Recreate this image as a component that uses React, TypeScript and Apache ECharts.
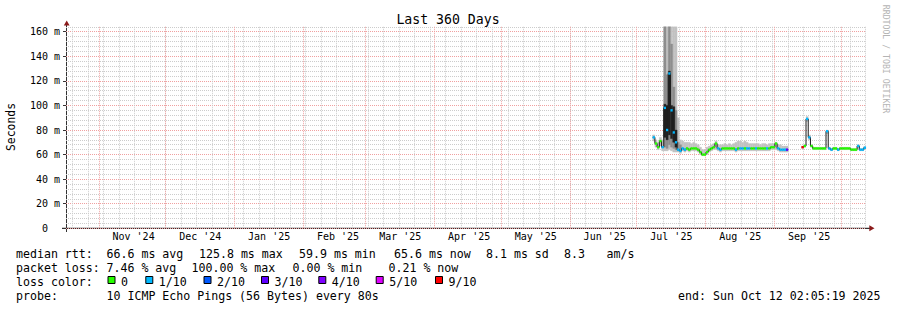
import React, { useEffect, useRef } from "react";
import * as echarts from "echarts";

// ---------------- time frame ----------------
const START_UTC = Date.UTC(2024, 9, 17, 2, 5, 19); // end minus 360 days
const SPAN_DAYS = 360;
const monthStarts: [number, number][] = [
  [2024, 10], [2024, 11], [2025, 0], [2025, 1], [2025, 2], [2025, 3],
  [2025, 4], [2025, 5], [2025, 6], [2025, 7], [2025, 8], [2025, 9],
];
const monthLabels = [
  "Nov '24", "Dec '24", "Jan '25", "Feb '25", "Mar '25", "Apr '25",
  "May '25", "Jun '25", "Jul '25", "Aug '25", "Sep '25",
];
const FIRST_SUNDAY: [number, number, number] = [2024, 9, 20];

// ---------------- y axis ----------------
const Y_TOP = 164;
const Y_LABELLED_MAX = 160;
const Y_MAJOR = 20;
const Y_MINOR = 4;

// ---------------- data (one slot = one day, first slot = day 264 of the 360) ----------------
const FIRST_SLOT_DAY = 264;
const median: (number | null)[] = [
  74, 69, 66, 71, 66,
  98, 80, 126, 96, 78, 70,
  64, 63, 65, 64, 65, 64, 65, 65, 65, 64,
  62, 60, 60, 62, 64, 65, 66, 69, 65, 64,
  65, 65, 65, 65, 65, 65, 64, 65, 65, 65,
  65, 65, 65, 65, 65, 65, 65, 65, 65, 65,
  65, 65, 66, 66, 69, 65, 64, 64, 64, 64,
  null, null, null, null, null, null,
  66, 67, 89, 74, 67, 65, 65, 65, 65, 65,
  65, 79, 65, 64, 65, 65, 64, 65, 65, 65,
  65, 65, 64, 64, 64, 67, 64, 64, 65.6,
];
// index into lossColors
const lossLevel: (number | null)[] = [
  1, 0, 0, 0, 1,
  1, 1, 1, 1, 1, 1,
  1, 1, 1, 1, 0, 0, 0, 0, 0, 0,
  0, 0, 0, 0, 0, 0, 0, 0, 1, 1,
  0, 0, 0, 0, 0, 0, 1, 0, 1, 1,
  0, 1, 1, 0, 0, 1, 0, 0, 0, 0,
  1, 0, 0, 0, 0, 1, 1, 1, 1, 3,
  null, null, null, null, null, null,
  6, 0, 1, 1, 0, 0, 0, 0, 0, 0,
  0, 1, 1, 1, 0, 0, 1, 0, 0, 0,
  0, 0, 0, 0, 0, 1, 1, 1, 1,
];
const smokeLo: (number | null)[] = [
  71, 66, 64, 67, 63,
  63, 63, 64, 63, 62, 62,
  62, 61, 63, 62, 63, 62, 63, 63, 63, 62,
  60, 59, 59, 60, 62, 63, 64, 64, 63, 62,
  63, 63, 63, 63, 63, 63, 62, 63, 63, 63,
  63, 63, 63, 63, 63, 63, 63, 63, 63, 63,
  63, 63, 64, 64, 64, 63, 62, 62, 62, 62,
  null, null, null, null, null, null,
  65, 66, 87, 72, 66, 64, 64, 64, 64, 64,
  64, 77, 64, 63, 64, 64, 63, 64, 64, 64,
  64, 64, 63, 63, 63, 65, 63, 63, 64.6,
];
const smokeHi: (number | null)[] = [
  76, 72, 70, 74, 72,
  170, 170, 170, 170, 170, 170,
  90, 72, 71, 70, 70, 70, 69, 70, 69, 68,
  66, 64, 64, 66, 67, 68, 69, 71, 68, 68,
  68, 69, 68, 69, 68, 69, 70, 71, 71, 70,
  71, 70, 69, 69, 69, 69, 69, 68, 69, 69,
  68, 69, 69, 69, 70, 68, 68, 67, 67, 67,
  null, null, null, null, null, null,
  67, 68, 91, 76, 68, 66, 66, 66, 66, 66,
  66, 80, 66, 65, 66, 66, 65, 66, 66, 66,
  66, 66, 65, 65, 65, 68, 65, 65, 66.5,
];
const midSmokeDays = [269, 270, 271, 272, 273, 274, 275, 276];
const midSmokeLo = [66, 65, 68, 66, 65, 64, 63, 63];
const midSmokeHi = [170, 125, 170, 150, 115, 96, 70, 68];
const darkSmokeDays = [269, 270, 271, 272, 273, 274];
const darkSmokeLo = [74, 72, 76, 73, 70, 66];
const darkSmokeHi = [101, 100, 128, 100, 99, 80];

// ---------------- legend ----------------
const lossColors = ["#26ff00", "#00b8ff", "#0059ff", "#5e00ff", "#7e00ff", "#dd00ff", "#ff0000"];
const lossLabels = ["0", "1/10", "2/10", "3/10", "4/10", "5/10", "9/10"];
const rttTexts = ["median rtt:", "66.6 ms avg", "125.8 ms max", "59.9 ms min", "65.6 ms now", "8.1 ms sd", "8.3", "am/s"];
const lossTexts = ["packet loss:", "7.46 % avg", "100.00 % max", "0.00 % min", "0.21 % now"];
const probeTexts = ["probe:", "10 ICMP Echo Pings (56 Bytes) every 80s"];
const END_TEXT = "end: Sun Oct 12 02:05:19 2025";
const TITLE = "Last 360 Days";
const Y_NAME = "Seconds";
const WATERMARK = "RRDTOOL / TOBI OETIKER";

// ---------------- layout / style ----------------
const W = 897;
const H = 310;
const PLOT_LEFT = 66;
const PLOT_RIGHT = W - 866;
const AXIS_Y = 228.3;
const PX_PER_UNIT = (AXIS_Y - 31.7) / Y_LABELLED_MAX;
const TOP_FULL = AXIS_Y - Y_TOP * PX_PER_UNIT;
const TOP_LABELLED = AXIS_Y - Y_LABELLED_MAX * PX_PER_UNIT;
const MONO = "'DejaVu Sans Mono', monospace";
const GRID_MINOR = "#cccccc";
const GRID_MAJOR = "#f0a0a0";
const SMOKE_COLORS = ["#c2c2c2", "#8e8e8e", "#222222"];
const ARROW = "#8b1a1a";

function buildOption() {
  const day = (y: number, m: number, d: number, h = 0) => (Date.UTC(y, m, d, h) - START_UTC) / 86400000;
  const monthLines = monthStarts.map(([y, m]) => day(y, m, 1)).filter((v) => v >= 0 && v <= SPAN_DAYS);
  const labelDays = monthLabels.map((_, i) => day(monthStarts[i][0], monthStarts[i][1], 16, 12));
  const weekLines: number[] = [];
  for (let v = day(FIRST_SUNDAY[0], FIRST_SUNDAY[1], FIRST_SUNDAY[2]); v <= SPAN_DAYS; v += 7) weekLines.push(v);
  const labelFor = (v: number) => {
    let best = 0;
    labelDays.forEach((d, i) => {
      if (Math.abs(d - v) < Math.abs(labelDays[best] - v)) best = i;
    });
    return monthLabels[best];
  };

  // smoke rectangles: [x0, x1, lo, hi, band]
  const smokeRows: number[][] = [];
  median.forEach((_, i) => {
    const lo = smokeLo[i], hi = smokeHi[i];
    if (lo == null || hi == null) return;
    const d = FIRST_SLOT_DAY + i;
    smokeRows.push([d, d + 1, lo, hi, 0]);
  });
  midSmokeDays.forEach((d, k) => smokeRows.push([d, d + 1, midSmokeLo[k], midSmokeHi[k], 1]));
  darkSmokeDays.forEach((d, k) => smokeRows.push([d, d + 1, darkSmokeLo[k], darkSmokeHi[k], 2]));

  // colored median rows: [x0, x1, value, loss]
  const medRows: number[][] = [];
  median.forEach((m, i) => {
    const l = lossLevel[i];
    if (m == null || l == null) return;
    const d = FIRST_SLOT_DAY + i;
    medRows.push([d, d + 1, m, l]);
  });

  // thin step line
  const stepData: (number | null)[][] = [];
  let prev: number | null = null;
  median.forEach((m, i) => {
    const d = FIRST_SLOT_DAY + i;
    if (m == null) {
      if (prev != null) {
        stepData.push([d, prev]);
        stepData.push([d, null]);
      }
      prev = null;
      return;
    }
    stepData.push([d, m]);
    prev = m;
  });
  if (prev != null) stepData.push([FIRST_SLOT_DAY + median.length, prev]);

  const clip = (params: any, r: any) => {
    const cs = params.coordSys;
    return echarts.graphic.clipRectByRect(r, { x: cs.x, y: cs.y, width: cs.width, height: cs.height });
  };

  const text = (x: number, y: number, t: string, extra: any = {}) => ({
    type: "text",
    x,
    y,
    silent: true,
    style: {
      text: t,
      fill: "#000",
      fontFamily: MONO,
      fontSize: 11.6,
      align: "left",
      verticalAlign: "middle",
      ...extra,
    },
  });

  const rttX = [16, 106.5, 199, 299, 394, 486, 564, 606.5];
  const lossX = [16, 106.5, 191.5, 292.5, 388.5];
  const boxX = [107.5, 145.3, 203.5, 261, 318.3, 375.7, 435];

  const graphics: any[] = [
    text(448, 19, TITLE, { align: "center", fontSize: 13.2 }),
    { ...text(11, 127, Y_NAME, { align: "center", fontSize: 11.4 }), rotation: Math.PI / 2 },
    { ...text(886, 59, WATERMARK, { align: "center", fontSize: 8.2, fill: "#b4b4b4" }), rotation: -Math.PI / 2 },
    ...rttTexts.map((t, i) => text(rttX[i], 254.3, t)),
    ...lossTexts.map((t, i) => text(lossX[i], 268.3, t)),
    text(16, 282.3, "loss color:"),
    ...lossColors.map((c, i) => ({
      type: "rect",
      silent: true,
      shape: { x: boxX[i] + 0.5, y: 276.5, width: 7, height: 7 },
      style: { fill: c, stroke: "#000", lineWidth: 1 },
    })),
    ...lossLabels.map((t, i) => text(boxX[i] + 13.5, 282.3, t)),
    text(16, 296.3, probeTexts[0]),
    text(106.5, 296.3, probeTexts[1]),
    text(880.5, 296.3, END_TEXT, { align: "right" }),
    // axis lines and arrows
    { type: "line", silent: true, shape: { x1: 62, y1: AXIS_Y, x2: 870, y2: AXIS_Y }, style: { stroke: "#000", lineWidth: 1 } },
    { type: "line", silent: true, shape: { x1: PLOT_LEFT + 0.5, y1: 232, x2: PLOT_LEFT + 0.5, y2: 24 }, style: { stroke: "#333", lineWidth: 1 } },
    { type: "polygon", silent: true, shape: { points: [[869.3, 225.3], [869.3, 231.3], [874.5, 228.3]] }, style: { fill: ARROW } },
    { type: "polygon", silent: true, shape: { points: [[63.8, 25.5], [69.6, 25.5], [66.7, 20.5]] }, style: { fill: ARROW } },
  ];

  const baseLabel = { fontFamily: MONO, fontSize: 10, color: "#000" };
  // vertical dotted grid lines, snapped to whole pixels for crispness
  const vLines = (values: number[], color: string, z: number) => ({
    type: "custom",
    xAxisIndex: 0,
    yAxisIndex: 0,
    silent: true,
    z,
    encode: { x: 0 },
    data: values.map((v) => [v]),
    renderItem: (params: any, api: any) => {
      const cs = params.coordSys;
      const px = Math.floor(api.coord([api.value(0), 0])[0]) + 0.5;
      return {
        type: "line",
        shape: { x1: px, y1: cs.y, x2: px, y2: cs.y + cs.height },
        style: { stroke: color, lineWidth: 1, lineDash: [1, 1] },
      };
    },
  });

  return {
    animation: false,
    backgroundColor: "#fff",
    grid: [
      { left: PLOT_LEFT, right: PLOT_RIGHT, top: TOP_FULL, bottom: H - AXIS_Y },
      { left: PLOT_LEFT, right: PLOT_RIGHT, top: TOP_LABELLED, bottom: H - AXIS_Y },
    ],
    xAxis: [
      {
        gridIndex: 0,
        type: "value",
        position: "bottom",
        min: 0,
        max: SPAN_DAYS,
        axisLine: { show: false },
        axisTick: { show: false },
        axisLabel: { ...baseLabel, customValues: labelDays, margin: 3, formatter: (v: number) => labelFor(v) },
        splitLine: { show: false },
      },
      { gridIndex: 1, type: "value", position: "bottom", min: 0, max: SPAN_DAYS, show: false },
    ],
    yAxis: [
      {
        gridIndex: 0,
        type: "value",
        min: 0,
        max: Y_TOP,
        interval: Y_MINOR,
        axisLine: { show: false },
        axisTick: { show: false },
        axisLabel: { show: false },
        splitLine: { show: true, lineStyle: { color: GRID_MINOR, width: 1, type: [1, 1] } },
      },
      {
        gridIndex: 1,
        type: "value",
        min: 0,
        max: Y_LABELLED_MAX,
        interval: Y_MAJOR,
        axisLine: { show: false },
        axisTick: { show: true, length: 3, lineStyle: { color: "#333" } },
        axisLabel: {
          ...baseLabel,
          margin: 6,
          formatter: (v: number) => (v === 0 ? "{z|0}" : `${v} m`),
          rich: { z: { fontFamily: MONO, fontSize: 10, color: "#000", padding: [0, 12, 0, 0] } },
        },
        splitLine: { show: true, lineStyle: { color: GRID_MAJOR, width: 1, type: [1, 1] } },
      },
    ],
    series: [
      vLines(weekLines, GRID_MINOR, 0),
      vLines(monthLines, GRID_MAJOR, 1),
      {
        type: "custom",
        name: "smoke",
        xAxisIndex: 0,
        yAxisIndex: 0,
        silent: true,
        z: 3,
        encode: { x: [0, 1], y: [2, 3] },
        data: smokeRows,
        renderItem: (params: any, api: any) => {
          const p0 = api.coord([api.value(0), api.value(3)]);
          const p1 = api.coord([api.value(1), api.value(2)]);
          const shape = clip(params, { x: p0[0], y: p0[1], width: p1[0] - p0[0], height: p1[1] - p0[1] });
          if (!shape) return null;
          const c = SMOKE_COLORS[api.value(4)];
          return { type: "rect", shape, style: { fill: c, stroke: c, lineWidth: 0.3 } };
        },
      },
      {
        type: "line",
        name: "median",
        xAxisIndex: 0,
        yAxisIndex: 0,
        step: "end",
        symbol: "none",
        showSymbol: false,
        silent: true,
        z: 4,
        connectNulls: false,
        lineStyle: { color: "#1c1c1c", width: 1 },
        data: stepData,
      },
      {
        type: "custom",
        name: "loss",
        xAxisIndex: 0,
        yAxisIndex: 0,
        silent: true,
        z: 5,
        encode: { x: [0, 1], y: 2 },
        data: medRows,
        renderItem: (params: any, api: any) => {
          const p0 = api.coord([api.value(0), api.value(2)]);
          const p1 = api.coord([api.value(1), api.value(2)]);
          const shape = clip(params, { x: p0[0], y: p0[1] - 1.2, width: p1[0] - p0[0], height: 2.4 });
          if (!shape) return null;
          return { type: "rect", shape, style: { fill: lossColors[api.value(3)] } };
        },
      },
    ],
    graphic: graphics,
  };
}

export default function App() {
  const ref = useRef<HTMLDivElement>(null);
  useEffect(() => {
    if (!ref.current) return;
    const chart = echarts.init(ref.current, null, { renderer: "svg", width: W, height: H });
    chart.setOption(buildOption() as any);
    return () => chart.dispose();
  }, []);
  return (
    <div
      ref={ref}
      style={{ position: "absolute", left: 0, top: 0, width: W, height: H, background: "#fff" }}
    />
  );
}
